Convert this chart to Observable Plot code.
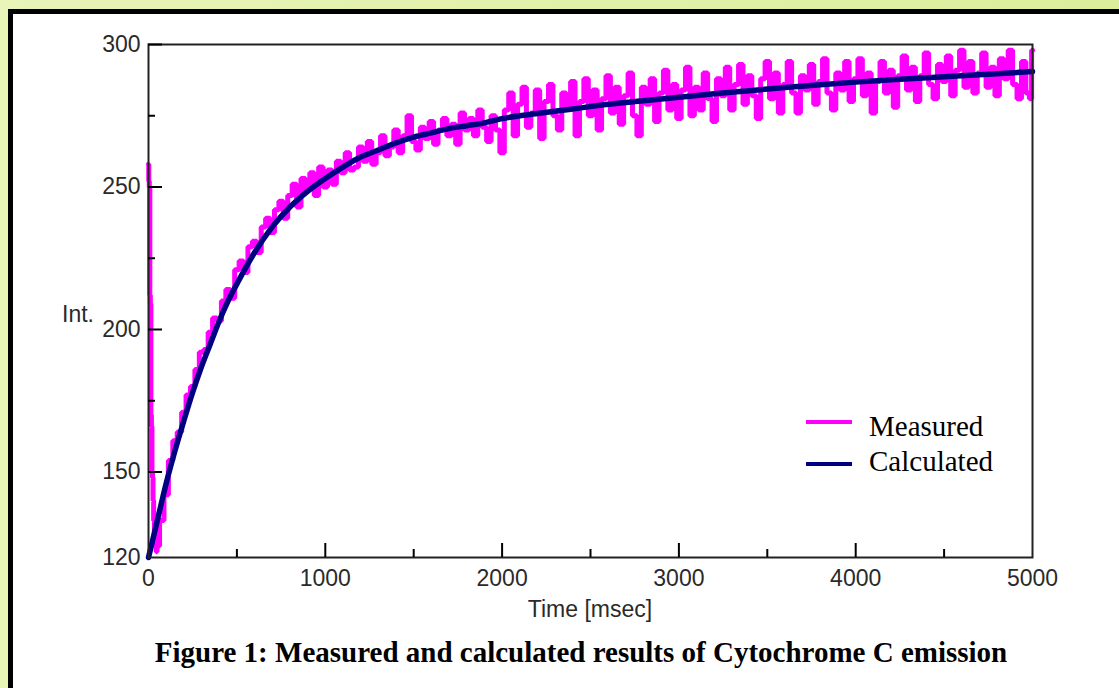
<!DOCTYPE html>
<html>
<head>
<meta charset="utf-8">
<script src="https://cdn.jsdelivr.net/npm/d3@7"></script>
<script src="https://cdn.jsdelivr.net/npm/@observablehq/plot@0.6"></script>
<style>
  html, body { margin: 0; padding: 0; }
  body { width: 1119px; height: 688px; overflow: hidden; position: relative;
         background: linear-gradient(to right, #e8f4b8, #dcee9c); }
  #panel { position: absolute; left: 8px; top: 9px; width: 1200px; height: 800px;
           background: #fff; border-left: 5px solid #000; border-top: 5px solid #000; }
  #chart { position: absolute; left: 0; top: 0; }
  #overlay { position: absolute; left: 0; top: 0; }
</style>
</head>
<body>
<div id="panel"></div>
<div id="chart"></div>
<svg id="overlay" width="1119" height="688"></svg>
<script>
// ---- Data ----
// Measured (magenta): first few samples (time ms, intensity)
const measuredStart = [[0,258],[3,252],[6,250],[9,212],[12,209],[15,170],[18,166],[21,150],[24,148],[27,140],[31,133],[36,128],[41,124],[46,122]];
// Measured samples every 25 ms, starting at 50 ms and ending at 4975 ms
const measuredFrom50Every25 = [
  124,133,142,154,161,164,171,177,180,186,192,193,199,204,203,210,214,211,221,224,
  220,229,231,227,236,239,234,242,245,239,247,251,243,253,249,255,247,257,250,
  256,251,259,255,262,256,257,264,259,266,258,262,268,261,264,270,262,268,275,266,
  263,271,267,273,265,270,274,268,272,265,276,270,274,268,277,271,266,275,270,262,
  277,283,268,279,285,271,276,284,267,280,286,275,270,283,278,287,268,280,288,275,
  284,270,281,289,276,285,272,282,290,275,268,285,279,288,273,283,291,277,286,274,
  284,292,275,285,277,290,281,273,288,282,292,277,286,293,279,289,282,274,288,294,
  281,290,276,286,294,283,276,289,284,293,279,287,295,283,277,290,284,294,280,288,
  295,282,290,276,287,294,283,291,278,289,296,284,292,280,289,297,286,281,293,287,
  296,282,291,298,285,294,283,290,297,285,292,282,295,288,298,286,281,294,283
];
const measuredEnd = [[4990,281],[5000,298]];

// Calculated (navy): fitted curve read at selected times
const calculated = [[0,120],[50,133],[100,146],[150,157.5],[200,168],[250,178],[300,187],[350,195],[400,203],[450,210],[500,216],[600,227],[700,236],[800,243],[900,248.5],[1000,253],[1100,257],[1200,260.5],[1300,263],[1400,265.5],[1500,267.5],[1600,269],[1700,270.5],[1800,271.5],[1900,272.5],[2000,274],[2200,275.8],[2400,277.4],[2600,279],[2800,280.3],[3000,281.5],[3200,282.7],[3400,283.8],[3600,284.9],[3800,285.9],[4000,286.8],[4250,287.8],[4500,288.7],[4750,289.6],[5000,290.5]];

const yLabelTicks = [120,150,200,250,300];
const yMajorTicks = [150,200,250,300];
const yMinorTicks = [175,225,275];
const xLabelTicks = [0,1000,2000,3000,4000,5000];
const xMajorTicks = [1000,2000,3000,4000];
const xMinorTicks = [500,1500,2500,3500,4500];

const seriesNames = ["Measured","Calculated"];
const seriesColors = ["#ff00ff","#000080"];
const xTitle = "Time [msec]";
const yTitle = "Int.";
const caption = "Figure 1: Measured and calculated results of Cytochrome C emission";

// ---- Build tables ----
const measured = [
  ...measuredStart.map(([t,v]) => ({t, v})),
  ...measuredFrom50Every25.map((v,i) => ({t: 50 + 25*i, v})),
  ...measuredEnd.map(([t,v]) => ({t, v}))
];
const calc = calculated.map(([t,v]) => ({t, v}));

const fmt = d => String(d);
const blank = () => "";

const plot = Plot.plot({
  width: 1119,
  height: 630,
  marginLeft: 148,
  marginRight: 87,
  marginTop: 44,
  marginBottom: 73,
  style: {background: "transparent", fontFamily: "'Liberation Sans', Arial, sans-serif", fontSize: "23px", color: "#2a2a2a", overflow: "visible"},
  x: {domain: [0,5000]},
  y: {domain: [120,300]},
  marks: [
    Plot.line(measured, {x: "t", y: "v", stroke: seriesColors[0], strokeWidth: 5, curve: "step", strokeLinejoin: "miter"}),
    Plot.line(calc, {x: "t", y: "v", stroke: seriesColors[1], strokeWidth: 5.5, curve: "monotone-x"}),
    Plot.frame({stroke: "#222", strokeWidth: 2}),
    Plot.axisY({ticks: yLabelTicks, tickSize: 0, tickPadding: 8, tickFormat: fmt, label: null}),
    Plot.axisY({ticks: yMajorTicks, tickSize: -14, tickFormat: blank, label: null, stroke: "#000", strokeWidth: 2}),
    Plot.axisY({ticks: yMinorTicks, tickSize: -7, tickFormat: blank, label: null, stroke: "#000", strokeWidth: 2}),
    Plot.axisX({ticks: xLabelTicks, tickSize: 0, tickPadding: 12, tickFormat: fmt, label: null}),
    Plot.axisX({ticks: xMajorTicks, tickSize: -14, tickFormat: blank, label: null, stroke: "#000", strokeWidth: 2}),
    Plot.axisX({ticks: xMinorTicks, tickSize: -8, tickFormat: blank, label: null, stroke: "#000", strokeWidth: 2})
  ]
});
document.getElementById("chart").appendChild(plot);

// ---- Titles, legend, caption ----
const ov = d3.select("#overlay");
ov.append("text").attr("x", 62).attr("y", 322)
  .attr("font-family", "'Liberation Sans', Arial, sans-serif").attr("font-size", 23).attr("fill", "#2a2a2a")
  .text(yTitle);
ov.append("text").attr("x", 590).attr("y", 617).attr("text-anchor", "middle")
  .attr("font-family", "'Liberation Sans', Arial, sans-serif").attr("font-size", 23).attr("fill", "#2a2a2a")
  .text(xTitle);

const legendY = [422, 464];
const legendBase = [436, 471];
seriesNames.forEach((name, i) => {
  ov.append("line").attr("x1", 806).attr("x2", 852).attr("y1", legendY[i]).attr("y2", legendY[i])
    .attr("stroke", seriesColors[i]).attr("stroke-width", 4);
  ov.append("text").attr("x", 869).attr("y", legendBase[i])
    .attr("font-family", "'Liberation Serif', 'Times New Roman', serif").attr("font-size", 29).attr("fill", "#000")
    .text(name);
});
ov.append("text").attr("x", 581).attr("y", 662).attr("text-anchor", "middle")
  .attr("font-family", "'Liberation Serif', 'Times New Roman', serif").attr("font-size", 29)
  .attr("font-weight", "bold").attr("fill", "#000")
  .text(caption);
</script>
</body>
</html>
